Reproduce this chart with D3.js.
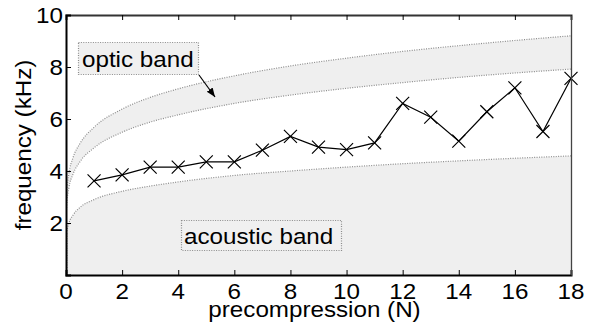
<!DOCTYPE html>
<html>
<head>
<meta charset="utf-8">
<script src="https://cdn.jsdelivr.net/npm/d3@7"></script>
<style>
  body { margin: 0; background: #fff; }
  svg { display: block; font-family: "Liberation Sans", Arial, Helvetica, sans-serif; }
</style>
</head>
<body>
<svg id="chart" width="593" height="324"></svg>
<script>
// measured series: precompression (N) vs frequency (kHz)
var forceN = [1, 2, 3, 4, 5, 6, 7, 8, 9, 10, 11, 12, 13, 14, 15, 16, 17, 18];
var freq = [3.62, 3.85, 4.15, 4.15, 4.35, 4.35, 4.8, 5.33, 4.92, 4.82, 5.08, 6.6, 6.07, 5.15, 6.28, 7.2, 5.52, 7.56];

// band edges (they drop steeply towards N=0)
var bandN = [0.0005, 0.003, 0.01, 0.03, 0.1, 0.25, 0.5, 1, 2, 3, 4, 6, 8, 10, 12, 14, 16, 18];
var opticHigh = [1.6, 2.16, 2.64, 3.17, 3.87, 4.51, 5.06, 5.68, 6.38, 6.83, 7.16, 7.66, 8.04, 8.34, 8.60, 8.82, 9.02, 9.2];
var opticLow = [1.38, 1.86, 2.27, 2.73, 3.33, 3.88, 4.36, 4.89, 5.49, 5.88, 6.16, 6.60, 6.92, 7.18, 7.40, 7.60, 7.77, 7.92];
var acousticHigh = [0.85, 1.12, 1.38, 1.62, 1.98, 2.3, 2.6, 2.9, 3.22, 3.42, 3.58, 3.83, 4.0, 4.15, 4.28, 4.39, 4.49, 4.58];

var xTicks = [0, 2, 4, 6, 8, 10, 12, 14, 16, 18];
var yTicks = [2, 4, 6, 8, 10];

var svg = d3.select("#chart");
// note: "top" is taken by window.top, so use pl/pr/pt/pb
var pl = 66, pr = 571, pt = 15, pb = 275;
var sx = 1.1; // the reference text is a bit wider than Liberation Sans

var x = d3.scaleLinear().domain([0, 18]).range([pl, pr]);
var y = d3.scaleLinear().domain([0, 10]).range([pb, pt]);

var defs = svg.append("defs");
defs.append("clipPath").attr("id", "plot")
  .append("rect").attr("x", pl).attr("y", pt).attr("width", pr - pl).attr("height", pb - pt);

var g = svg.append("g").attr("clip-path", "url(#plot)");

var idx = bandN.map(function(n, i) { return i; });

// optic band
var opticArea = d3.area()
    .x(function(i) { return x(bandN[i]); })
    .y0(function(i) { return y(opticLow[i]); })
    .y1(function(i) { return y(opticHigh[i]); })
    .curve(d3.curveMonotoneX);

g.append("path")
  .attr("d", opticArea(idx))
  .attr("fill", "#efefef");

// acoustic band goes all the way down to the axis
var acousticArea = d3.area()
    .x(function(i) { return x(bandN[i]); })
    .y0(y(0))
    .y1(function(i) { return y(acousticHigh[i]); })
    .curve(d3.curveMonotoneX);

g.append("path")
  .attr("d", acousticArea(idx))
  .attr("fill", "#efefef");

function edge(vals) {
  return d3.line()
    .x(function(i) { return x(bandN[i]); })
    .y(function(i) { return y(vals[i]); })
    .curve(d3.curveMonotoneX)(idx);
}

[opticHigh, opticLow, acousticHigh].forEach(function(vals) {
  g.append("path")
    .attr("d", edge(vals))
    .attr("fill", "none")
    .attr("stroke", "#8c8c8c")
    .attr("stroke-width", 1.2)
    .attr("stroke-dasharray", "1,1.4");
});

// the curves run down along the left axis towards zero
g.append("line")
  .attr("x1", x(0) + 1).attr("x2", x(0) + 1)
  .attr("y1", y(opticHigh[0])).attr("y2", y(0))
  .attr("stroke", "#8c8c8c")
  .attr("stroke-width", 1.2)
  .attr("stroke-dasharray", "1,1.4");

// measured line with x markers
var line = d3.line()
    .x(function(d, i) { return x(forceN[i]); })
    .y(function(d) { return y(d); });

svg.append("path")
  .attr("d", line(freq))
  .attr("fill", "none")
  .attr("stroke", "#000")
  .attr("stroke-width", 1.2);

var m = 6.5;
svg.append("g").selectAll("path.mark")
  .data(freq)
  .enter().append("path")
    .attr("class", "mark")
    .attr("d", function(d, i) {
      var cx = x(forceN[i]), cy = y(d);
      return "M" + (cx - m) + "," + (cy - m) + "L" + (cx + m) + "," + (cy + m) +
             "M" + (cx - m) + "," + (cy + m) + "L" + (cx + m) + "," + (cy - m);
    })
    .attr("stroke", "#000")
    .attr("stroke-width", 1.2)
    .attr("fill", "none");

// wide text helper (horizontal stretch around the anchor point)
function wideText(parent, tx, ty, txt, size, anchor) {
  return parent.append("text")
    .attr("transform", "translate(" + tx + "," + ty + ") scale(" + sx + ",1)")
    .attr("text-anchor", anchor || "start")
    .attr("font-size", size)
    .attr("fill", "#000")
    .text(txt);
}

// annotation boxes
function label(bx, by, bw, bh, txt, tx, ty) {
  svg.append("rect")
    .attr("x", bx).attr("y", by).attr("width", bw).attr("height", bh)
    .attr("fill", "#f0f0f0")
    .attr("stroke", "#8c8c8c")
    .attr("stroke-width", 1.2)
    .attr("stroke-dasharray", "1,1.4");
  wideText(svg, tx, ty, txt, 22);
}
label(78.5, 42.5, 120, 32, "optic band", 82, 67);
label(181.5, 220.5, 160, 30, "acoustic band", 184, 244);

// arrow
defs.append("marker")
  .attr("id", "head").attr("viewBox", "0 0 10 10")
  .attr("refX", 10).attr("refY", 5)
  .attr("markerWidth", 9).attr("markerHeight", 9)
  .attr("markerUnits", "userSpaceOnUse")
  .attr("orient", "auto")
  .append("path").attr("d", "M0,1 L10,5 L0,9 Z").attr("fill", "#000");

svg.append("line")
  .attr("x1", 199).attr("y1", 75).attr("x2", 215).attr("y2", 97)
  .attr("stroke", "#000").attr("stroke-width", 1.2)
  .attr("marker-end", "url(#head)");

// axes box: inward ticks on bottom, top and left; plain right edge
var axes = svg.append("g");
var bottomAx = axes.append("g").attr("transform", "translate(0," + pb + ")")
  .call(d3.axisBottom(x).tickValues(xTicks).tickSize(-5).tickFormat(""));
var topAx = axes.append("g").attr("transform", "translate(0," + pt + ")")
  .call(d3.axisTop(x).tickValues(xTicks).tickSize(-5).tickFormat(""));
var leftAx = axes.append("g").attr("transform", "translate(" + pl + ",0)")
  .call(d3.axisLeft(y).tickValues(yTicks).tickSize(-5).tickFormat(""));
var rightAx = axes.append("g").attr("transform", "translate(" + pr + ",0)")
  .call(d3.axisRight(y).tickValues([]).tickSize(0).tickFormat(""));

axes.selectAll(".domain").attr("stroke", "#000").attr("stroke-width", 2);
topAx.select(".domain").attr("stroke", "#333");
rightAx.select(".domain").attr("stroke", "#444").attr("stroke-width", 1.3);
axes.selectAll(".tick line").attr("stroke", "#000").attr("stroke-width", 1);

// tick labels placed from the same scales
var tl = svg.append("g");
xTicks.forEach(function(t) {
  wideText(tl, x(t), 299, d3.format("d")(t), 22, "middle");
});
yTicks.forEach(function(t) {
  wideText(tl, pl - 3, y(t) + 8, d3.format("d")(t), 22, "end");
});

wideText(svg, (pl + pr) / 2 - 4, 317, "precompression (N)", 22, "middle");

svg.append("text")
  .attr("transform", "translate(31," + ((pt + pb) / 2) + ") rotate(-90) scale(" + sx + ",1)")
  .attr("text-anchor", "middle")
  .attr("font-size", 22)
  .text("frequency (kHz)");
</script>
</body>
</html>
